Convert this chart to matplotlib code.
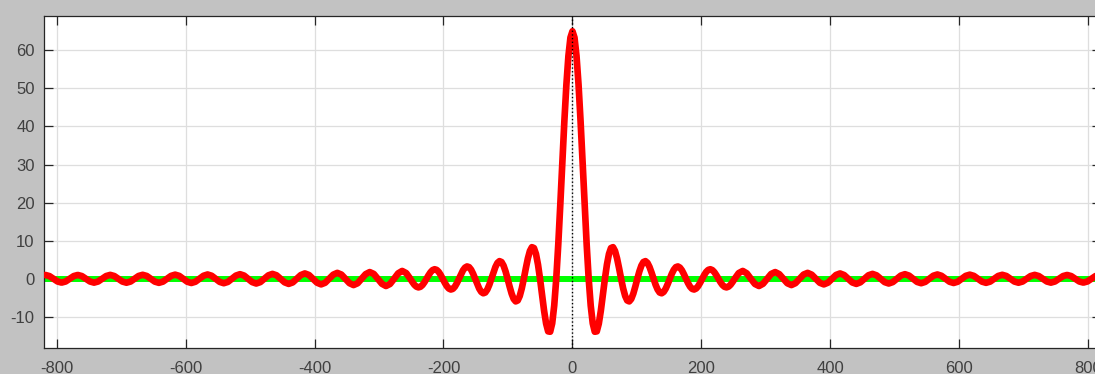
import numpy as np
import matplotlib
matplotlib.use("Agg")
import matplotlib.pyplot as plt

# --- data (kernel-shaped response) ---
# sample positions: evenly spaced over the visible span
x_main = np.linspace(-817.4, 817.4, 261)

# right half values (x >= 0)
y_right = [
    65.0, 58.52, 41.38, 19.51, 0.0, -11.71, -13.81, -8.37, 0.0, 6.52,
    8.30, 5.34, 0.0, -4.52, -5.94, -3.92, 0.0, 3.47, 4.63, 3.11,
    0.0, -2.82, -3.81, -2.58, 0.0, 2.38, 3.24, 2.21, 0.0, -2.06,
    -2.82, -1.93, 0.0, 1.82, 2.50, 1.72, 0.0, -1.64, -2.26, -1.56,
    0.0, 1.49, 2.06, 1.42, 0.0, -1.37, -1.90, -1.31, 0.0, 1.27,
    1.76, 1.22, 0.0, -1.18, -1.65, -1.15, 0.0, 1.11, 1.55, 1.08,
    0.0, -1.05, -1.47, -1.03, 0.0, 1.00, 1.40, 0.98, 0.0, -0.96,
    -1.34, -0.93, 0.0, 0.92, 1.28, 0.90, 0.0, -0.88, -1.24, -0.87,
    0.0, 0.85, 1.20, 0.84, 0.0, -0.83, -1.16, -0.82, 0.0, 0.80,
    1.13, 0.79, 0.0, -0.78, -1.10, -0.78, 0.0, 0.77, 1.08, 0.76,
    0.0, -0.75, -1.06, -0.75, 0.0, 0.74, 1.04, 0.74, 0.0, -0.73,
    -1.03, -0.73, 0.0, 0.72, 1.02, 0.72, 0.0, -0.72, -1.01, -0.71,
    0.0, 0.71, 1.00, 0.71, 0.0, -0.71, -1.00, -0.71, 0.0, 0.71,
    1.00,
]
# left half (x < 0), same shape mirrored
y_left = [
    1.00,
    0.71, 0.0, -0.71, -1.00, -0.71, 0.0, 0.71, 1.00, 0.71, 0.0,
    -0.71, -1.01, -0.72, 0.0, 0.72, 1.02, 0.72, 0.0, -0.73, -1.03,
    -0.73, 0.0, 0.74, 1.04, 0.74, 0.0, -0.75, -1.06, -0.75, 0.0,
    0.76, 1.08, 0.77, 0.0, -0.78, -1.10, -0.78, 0.0, 0.79, 1.13,
    0.80, 0.0, -0.82, -1.16, -0.83, 0.0, 0.84, 1.20, 0.85, 0.0,
    -0.87, -1.24, -0.88, 0.0, 0.90, 1.28, 0.92, 0.0, -0.93, -1.34,
    -0.96, 0.0, 0.98, 1.40, 1.00, 0.0, -1.03, -1.47, -1.05, 0.0,
    1.08, 1.55, 1.11, 0.0, -1.15, -1.65, -1.18, 0.0, 1.22, 1.76,
    1.27, 0.0, -1.31, -1.90, -1.37, 0.0, 1.42, 2.06, 1.49, 0.0,
    -1.56, -2.26, -1.64, 0.0, 1.72, 2.50, 1.82, 0.0, -1.93, -2.82,
    -2.06, 0.0, 2.21, 3.24, 2.38, 0.0, -2.58, -3.81, -2.82, 0.0,
    3.11, 4.63, 3.47, 0.0, -3.92, -5.94, -4.52, 0.0, 5.34, 8.30,
    6.52, 0.0, -8.37, -13.81, -11.71, 0.0, 19.51, 41.38, 58.52,
]

# extra readings in between, around the centre where the swings are large
x_mid = np.linspace(-248.36, 248.36, 80)
y_mid_right = [
    63.34, 50.97, 30.59, 9.05, -7.04, -13.91, -11.77, -4.23, 3.73, 8.07,
    7.30, 2.76, -2.54, -5.69, -5.30, -2.05, 1.93, 4.40, 4.17, 1.64,
    -1.56, -3.60, -3.44, -1.37, 1.31, 3.05, 2.93, 1.17, -1.13, -2.65,
    -2.56, -1.03, 1.00, 2.34, 2.28, 0.92, -0.90, -2.11, -2.06, -0.83,
]
y_mid_left = [
    -0.83, -2.06, -2.11, -0.90, 0.92, 2.28, 2.34, 1.00, -1.03, -2.56,
    -2.65, -1.13, 1.17, 2.93, 3.05, 1.31, -1.37, -3.44, -3.60, -1.56,
    1.64, 4.17, 4.40, 1.93, -2.05, -5.30, -5.69, -2.54, 2.76, 7.30,
    8.07, 3.73, -4.23, -11.77, -13.91, -7.04, 9.05, 30.59, 50.97, 63.34,
]

x_ticks = [-800, -600, -400, -200, 0, 200, 400, 600, 800]
y_ticks = [-10, 0, 10, 20, 30, 40, 50, 60]

x_all = np.concatenate([x_main, x_mid])
y_all = np.concatenate([y_left, y_right, y_mid_left, y_mid_right])
order = np.argsort(x_all)
x_all, y_all = x_all[order], y_all[order]

plt.rcParams['font.family'] = ['Liberation Sans', 'DejaVu Sans']
plt.rcParams['axes.unicode_minus'] = False

fig = plt.figure(figsize=(10.95, 3.74), dpi=100, facecolor='#c2c2c2')
ax = fig.add_axes([0.0399, 0.0703, 0.9658, 0.8869])
ax.set_facecolor('white')

ax.axhline(0, color='#00ff00', linewidth=4.3, zorder=2)
ax.plot(x_all, y_all, color='#ff0000', linewidth=4.8,
        solid_joinstyle='round', solid_capstyle='round', zorder=3)
ax.axvline(0, color='black', linestyle=':', linewidth=1.0, zorder=4)

ax.set_xlim(-820, 820)
ax.set_ylim(-18.1, 69)
ax.set_xticks(x_ticks)
ax.set_yticks(y_ticks)
ax.grid(True, color='#dedede', linewidth=0.9, zorder=0)
ax.set_axisbelow(True)

ax.tick_params(direction='in', length=6.5, width=0.9, color='#262626',
               top=True, right=True, labelsize=12, labelcolor='#404040')
ax.tick_params(axis='x', pad=9.5)
ax.tick_params(axis='y', pad=6.5)
for sp in ax.spines.values():
    sp.set_color('#262626')
    sp.set_linewidth(0.9)

fig.savefig('out.png', dpi=100, facecolor=fig.get_facecolor())
